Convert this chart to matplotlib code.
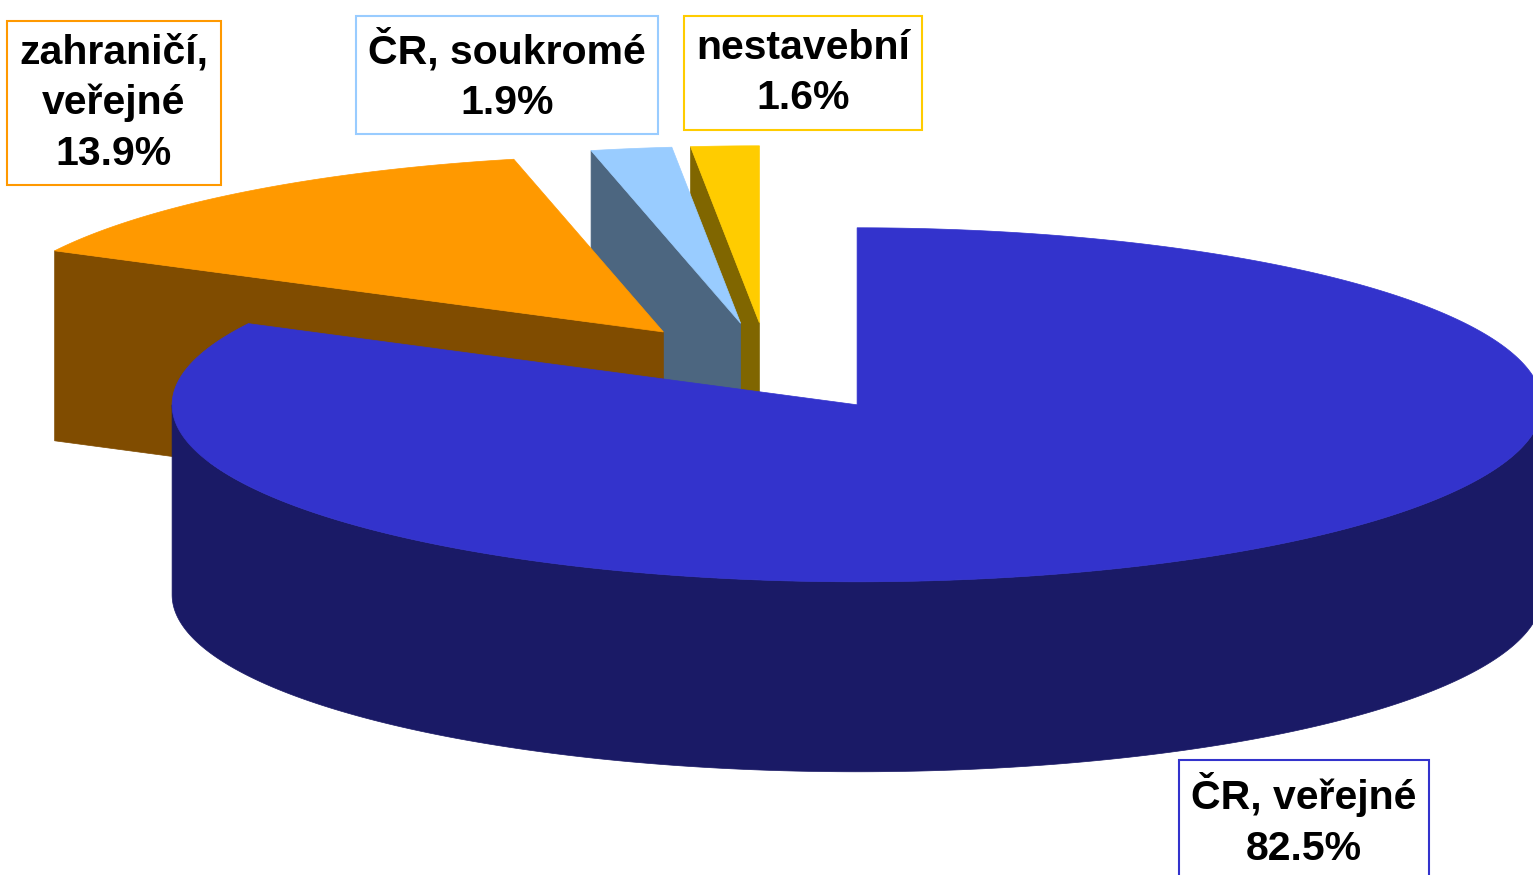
import numpy as np
import matplotlib
matplotlib.use("Agg")
import matplotlib.pyplot as plt
from matplotlib.patches import Polygon

plt.rcParams['font.family'] = ['Liberation Sans', 'DejaVu Sans']

# Data
labels = ['ČR, veřejné', 'zahraničí,\nveřejné', 'ČR, soukromé', 'nestavební']
shares = [82.5, 13.9, 1.9, 1.6]

# Styles
top_colors = ['#3333CC', '#FF9900', '#99CCFF', '#FFCC00']
side_colors = ['#1A1A66', '#804C00', '#4C6680', '#806600']
label_pos = [(1304, 820), (114, 103), (507, 75), (803, 73)]

# Pie geometry (pixels, y down)
W, H = 1533, 875
CX, CY = 768, 367
RX, RY = 685, 177
DEPTH = 190
EXPLODE = 0.25
START = 90.0


def proj(cx, cy, theta, dz=0.0):
    t = np.radians(theta)
    return cx + RX * np.cos(t), cy - RY * np.sin(t) + dz


def draw_slice(ax, a1, a0, top, side):
    mid = np.radians((a0 + a1) / 2)
    cx = CX + EXPLODE * RX * np.cos(mid)
    cy = CY - EXPLODE * RY * np.sin(mid)
    thetas = np.linspace(a1, a0, 600)

    # radial cut faces
    for a, normal in ((a0, a0 + 90), (a1, a1 - 90)):
        if np.sin(np.radians(normal)) < -1e-6:
            ox, oy = proj(cx, cy, a)
            quad = [(cx, cy), (ox, oy), (ox, oy + DEPTH), (cx, cy + DEPTH)]
            ax.add_patch(Polygon(quad, closed=True, facecolor=side,
                                 edgecolor=side, lw=0.5))

    # outer curved wall (front half only)
    vis = np.sin(np.radians(thetas)) <= 0
    idx = np.flatnonzero(vis)
    if idx.size:
        runs = np.split(idx, np.flatnonzero(np.diff(idx) > 1) + 1)
        for run in runs:
            th = thetas[run]
            xs, ys = proj(cx, cy, th)
            pts = np.column_stack([np.r_[xs, xs[::-1]],
                                   np.r_[ys, ys[::-1] + DEPTH]])
            ax.add_patch(Polygon(pts, closed=True, facecolor=side,
                                 edgecolor=side, lw=0.5))

    # top face
    xs, ys = proj(cx, cy, thetas)
    pts = np.column_stack([np.r_[cx, xs], np.r_[cy, ys]])
    ax.add_patch(Polygon(pts, closed=True, facecolor=top,
                         edgecolor=top, lw=0.5))


fig = plt.figure(figsize=(W / 100, H / 100), dpi=100)
ax = fig.add_axes([0, 0, 1, 1])
ax.set_xlim(0, W)
ax.set_ylim(H, 0)
ax.axis('off')

total = sum(shares)
spans = []
cum = 0.0
for s in shares:
    a0 = START - cum / total * 360
    a1 = a0 - s / total * 360
    spans.append((a1, a0))
    cum += s

# back slices first
order = sorted(range(len(shares)),
               key=lambda i: -np.sin(np.radians(sum(spans[i]) / 2)))
for i in order:
    draw_slice(ax, spans[i][0], spans[i][1], top_colors[i], side_colors[i])

for i, lab in enumerate(labels):
    x, y = label_pos[i]
    ax.text(x, y, f"{lab}\n{shares[i]:.1f}%", ha='center', va='center',
            multialignment='center', fontsize=29.5, fontweight='bold',
            color='black', linespacing=1.42, zorder=5,
            bbox=dict(boxstyle='square,pad=0.3', facecolor='white',
                      edgecolor=top_colors[i], linewidth=1.5))

fig.savefig('out.png', dpi=100)
